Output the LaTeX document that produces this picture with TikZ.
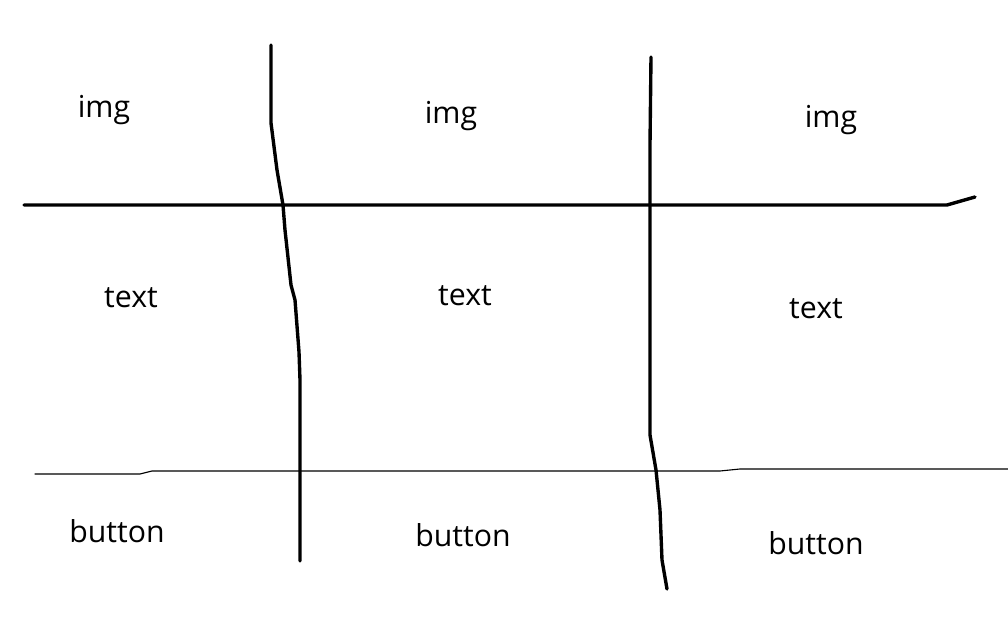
\documentclass[tikz,border=0pt]{standalone}
\usepackage{fontspec}
\setmainfont{Open Sans}
\usetikzlibrary{positioning}

\begin{document}
\begin{tikzpicture}[x=0.025cm,y=-0.025cm,line cap=round,line join=round,
  pen/.style={draw=black,line width=2.4pt},
  thin pen/.style={draw=black,line width=0.8pt},
  cell text/.style={font=\fontsize{21.5}{24}\selectfont,inner sep=0pt}]
  \useasboundingbox (0,0) rectangle (1008,630);
  % row labels
  \node[cell text] (img1) at (104,110) {img};
  \node[cell text] (img2) at (451,116) {img};
  \node[cell text] (img3) at (831,120) {img};
  \node[cell text] (text1) at (131,298) {text};
  \node[cell text] (text2) at (465,296) {text};
  \node[cell text] (text3) at (816,309) {text};
  \node[cell text] (button1) at (117,531) {button};
  \node[cell text] (button2) at (463,535) {button};
  \node[cell text] (button3) at (816,543) {button};
  % hand drawn grid
  \draw[pen] (24,205) -- (947,205) -- (975,197);
  \draw[thin pen] (35,474) -- (140,474) -- (152,471) -- (720,471) -- (740,469) -- (1008,469);
  \draw[pen] (271,45) -- (271,123) -- (277,170) -- (283,205) -- (285,230)
    -- (291,285) -- (295,300) -- (299,352) -- (300,380) -- (300,561);
  \draw[pen] (651,57) -- (650,145) -- (650,435) -- (656,470) -- (660,510)
    -- (662,560) -- (667,589);
\end{tikzpicture}
\end{document}
